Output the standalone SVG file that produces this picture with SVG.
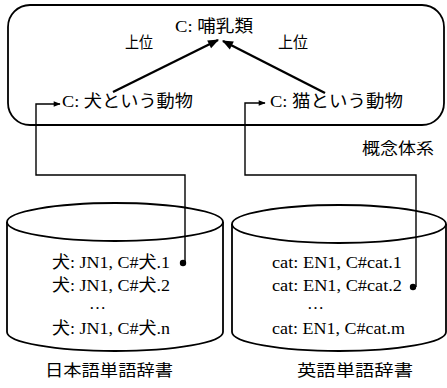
<svg xmlns="http://www.w3.org/2000/svg" width="447" height="388" viewBox="0 0 447 388">
<style>
text{font-family:"Liberation Serif","Noto Sans CJK JP",serif;fill:#000;}
.n{font-size:17px;}
.d{font-size:16.5px;}
.l{font-size:16px;}
.sh{fill:#fff;stroke:#000;stroke-width:1.8;}
.c{fill:none;stroke:#000;stroke-width:1.4;}
.h{fill:none;stroke:#000;stroke-width:2.4;}
</style>
<defs>
<marker id="a" viewBox="0 0 10 10" refX="9" refY="5" markerWidth="8" markerHeight="7" markerUnits="userSpaceOnUse" orient="auto"><path d="M0,1 L10,5 L0,9 Z" fill="#000"/></marker>
<marker id="b" viewBox="0 0 10 10" refX="9" refY="5" markerWidth="12" markerHeight="11" markerUnits="userSpaceOnUse" orient="auto"><path d="M0,1 L10,5 L0,9 Z" fill="#000"/></marker>
</defs>
<g id="concept-system">
<rect class="sh" x="8" y="5" width="436" height="120" rx="22" ry="22"/>
<text class="l" x="362" y="154" textLength="72" lengthAdjust="spacingAndGlyphs">概念体系</text>
</g>
<g id="mammal"><text class="n" x="175" y="32" textLength="78" lengthAdjust="spacingAndGlyphs">C: 哺乳類</text></g>
<g id="dog"><text class="n" x="62" y="107" textLength="131" lengthAdjust="spacingAndGlyphs">C: 犬という動物</text></g>
<g id="cat"><text class="n" x="270" y="107" textLength="133" lengthAdjust="spacingAndGlyphs">C: 猫という動物</text></g>
<g id="jp-dict">
<path class="sh" d="M7,222 L7,332 A108,19 0 0 0 223,332 L223,222"/>
<ellipse class="sh" cx="115" cy="222" rx="108" ry="19"/>
<text class="d" x="52" y="268" textLength="118" lengthAdjust="spacingAndGlyphs">犬: JN1, C#犬.1</text>
<text class="d" x="52" y="291" textLength="118" lengthAdjust="spacingAndGlyphs">犬: JN1, C#犬.2</text>
<text class="d" x="89" y="309" textLength="17" lengthAdjust="spacingAndGlyphs">…</text>
<text class="d" x="52" y="334" textLength="118" lengthAdjust="spacingAndGlyphs">犬: JN1, C#犬.n</text>
<text class="l" x="45" y="376" textLength="128" lengthAdjust="spacingAndGlyphs">日本語単語辞書</text>
</g>
<g id="en-dict">
<path class="sh" d="M232,224 L232,332 A107,19 0 0 0 446,332 L446,224"/>
<ellipse class="sh" cx="339" cy="224" rx="107" ry="19"/>
<text class="d" x="272" y="268" textLength="130" lengthAdjust="spacingAndGlyphs">cat: EN1, C#cat.1</text>
<text class="d" x="272" y="291" textLength="130" lengthAdjust="spacingAndGlyphs">cat: EN1, C#cat.2</text>
<text class="d" x="307" y="309" textLength="17" lengthAdjust="spacingAndGlyphs">…</text>
<text class="d" x="272" y="334" textLength="133" lengthAdjust="spacingAndGlyphs">cat: EN1, C#cat.m</text>
<text class="l" x="297" y="376" textLength="116" lengthAdjust="spacingAndGlyphs">英語単語辞書</text>
</g>
<g id="connectors">
<line class="h" x1="113" y1="92" x2="218" y2="40" marker-end="url(#b)"/>
<line class="h" x1="325" y1="93" x2="223" y2="41" marker-end="url(#b)"/>
<text class="l" x="125" y="48" textLength="28" lengthAdjust="spacingAndGlyphs">上位</text>
<text class="l" x="278" y="48" textLength="30" lengthAdjust="spacingAndGlyphs">上位</text>
<path class="c" d="M185,263 L185,175 L36,175 L36,104 L60,104" marker-end="url(#a)"/>
<circle cx="183" cy="263" r="3.2" fill="#000"/>
<path class="c" d="M416,287 L416,175 L245,175 L245,103 L265,103" marker-end="url(#a)"/>
<circle cx="413" cy="287" r="3.2" fill="#000"/>
</g>
</svg>
